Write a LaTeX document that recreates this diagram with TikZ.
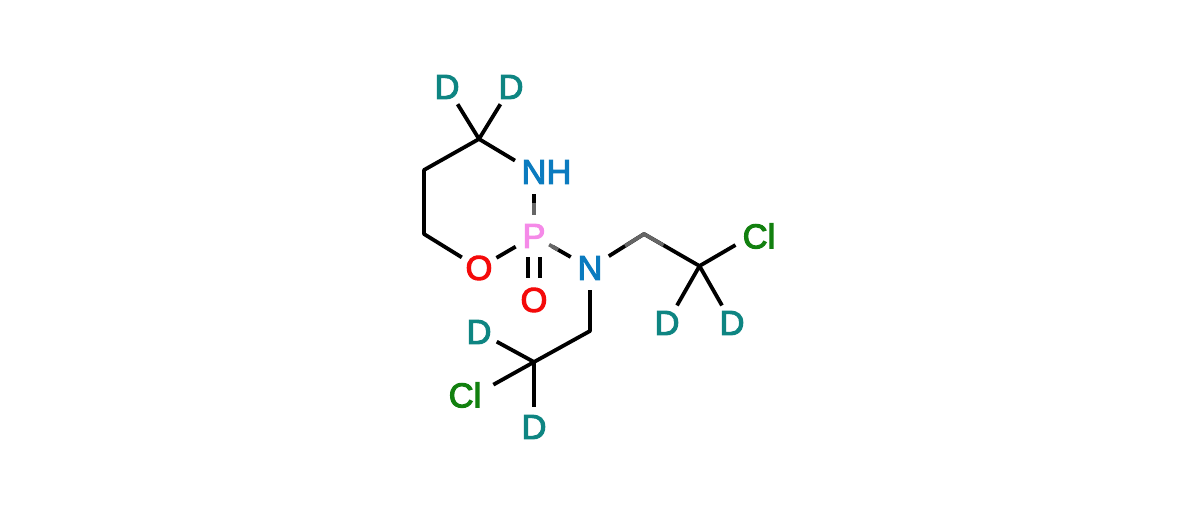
\documentclass[tikz,border=0pt]{standalone}
\usepackage{fontspec}
\setmainfont[FakeBold=3]{Liberation Sans}
\usetikzlibrary{calc}
\definecolor{dteal}{HTML}{0E8582}
\definecolor{nblue}{HTML}{0B7BBF}
\definecolor{ppink}{HTML}{F58AE8}
\definecolor{ored}{HTML}{F40A0A}
\definecolor{clgreen}{HTML}{12800F}
\tikzset{
  atom/.style={circle,inner sep=0pt,minimum size=#1,font=\fontsize{34.5}{34.5}\selectfont},
  deut/.style={atom=40pt,text=dteal},
  bond/.style={draw=black,line width=3.8pt,line join=round},
  fade/.style={draw=black!60,line width=3.6pt,line join=round}
}
\begin{document}
\begin{tikzpicture}[x=1pt,y=-1pt]
\useasboundingbox (0,0) rectangle (1200,511);
\fill[white] (0,0) rectangle (1200,511);
% skeleton vertices
\coordinate (c4) at (479,139);
\coordinate (c5) at (424,170);
\coordinate (c6) at (424,234);
\coordinate (c7) at (644,234);
\coordinate (c8) at (699.5,266);
\coordinate (c9) at (590,331);
\coordinate (c10) at (534,362);
% atoms
\node[deut] (d1) at (447,87) {D};
\node[deut] (d2) at (511,87) {D};
\node[atom=44pt,text=nblue] (nh) at (534,172) {N\rlap{H}};
\node[atom=42pt,text=ppink] (p) at (534,236) {P};
\node[atom=40pt,text=ored] (o1) at (479,268) {O};
\node[atom=44pt,text=nblue] (n) at (590,268) {N};
\node[atom=44pt,text=ored] (o2) at (534,300) {O};
\node[atom=50pt,text=clgreen] (cl1) at (759,236) {Cl};
\node[deut] (d3) at (667,323) {D};
\node[deut] (d4) at (732,323) {D};
\node[deut] (d5) at (479,332) {D};
\node[atom=60pt,text=clgreen] (cl2) at (465,395) {Cl};
\node[deut] (d6) at (534,427) {D};
% bonds
\draw[bond] (nh) -- (c4) -- (c5) -- (c6) -- (o1);
\draw[bond] (d1) -- (c4) -- (d2);
\draw[bond] (nh) -- (p);
\draw[bond] (p) -- (o1);
\draw[bond] (p) -- (n);
\draw[bond] (n) -- (c7) -- (c8) -- (cl1.201);
\draw[bond] (d3) -- (c8) -- (d4);
\draw[bond] (n) -- (c9) -- (c10) -- (cl2.20);
\draw[bond] (d5) -- (c10) -- (d6);
\draw[bond,transform canvas={xshift=-6pt}] (p) -- (o2);
\draw[bond,transform canvas={xshift=6pt}] (p) -- (o2);
% greyed stretches of the bonds
\draw[fade] ($(nh)!.48!(p)$) -- ($(nh)!.67!(p)$);
\draw[fade] ($(p)!.27!(n)$) -- ($(p)!.43!(n)$);
\draw[fade] ($(c7)!.35!(n)$) -- (c7) -- ($(c7)!.35!(c8)$);
\end{tikzpicture}
\end{document}
